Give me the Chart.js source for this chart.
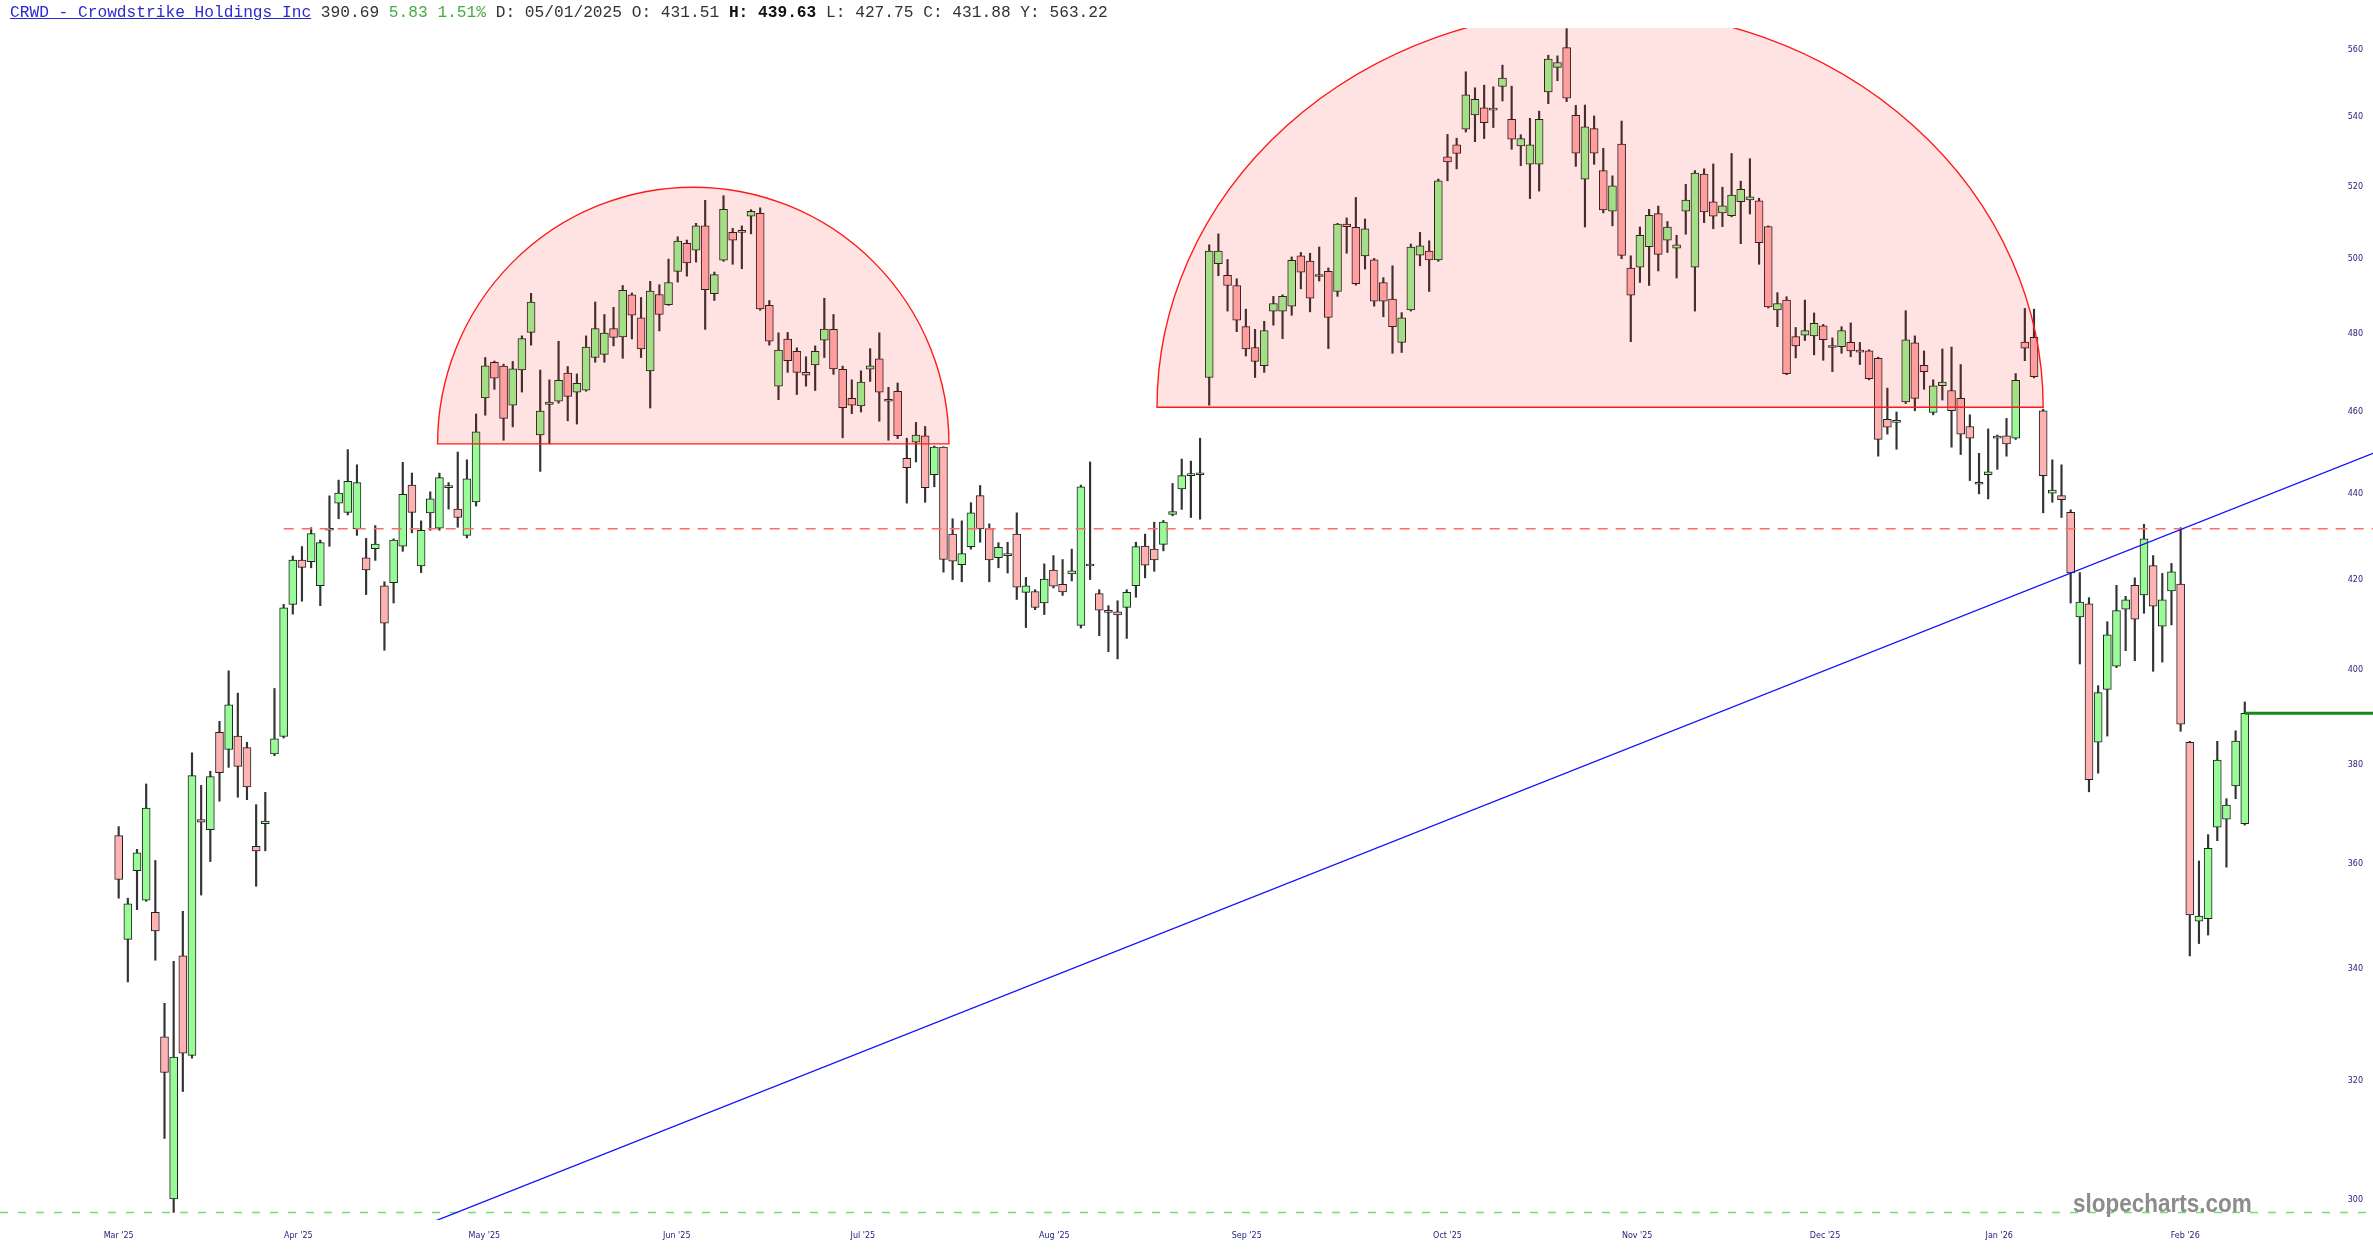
<!DOCTYPE html>
<html>
<head>
<meta charset="utf-8">
<title>CRWD - Crowdstrike Holdings Inc</title>
<script src="https://cdn.jsdelivr.net/npm/chart.js@4.4.1/dist/chart.umd.min.js"></script>
<style>
  html,body{margin:0;padding:0;background:#fff;}
  #wrap{position:relative;width:2373px;height:1260px;overflow:hidden;}
  #chart{position:absolute;left:0;top:0;}
  #head{position:absolute;left:10px;top:4px;font:16.2px "Liberation Mono",monospace;color:#333;white-space:pre;line-height:18px;}
  #head a{color:#2a2ad0;text-decoration:underline;}
  #head .up{color:#44aa44;}
  #head b{color:#111;}
  #mark{position:absolute;left:2073px;top:1189px;font:bold 25px "Liberation Sans Narrow","Liberation Sans",sans-serif;color:#8c8c8c;transform:scaleX(0.9);transform-origin:left center;}
</style>
</head>
<body>
<div id="wrap">
<canvas id="chart" width="2373" height="1260"></canvas>
<div id="head"><a>CRWD - Crowdstrike Holdings Inc</a> 390.69 <span class="up">5.83 1.51%</span> D: 05/01/2025 O: 431.51 <b>H: 439.63</b> L: 427.75 C: 431.88 Y: 563.22</div>
<div id="mark">slopecharts.com</div>
</div>
<script>
// ---------- Daily candles, oldest first
const opens = [
  365.6,345.6,358.7,353.0,350.7,327.8,300.2,342.5,324.5,368.8,
  366.8,386.7,383.1,385.9,383.5,363.5,368.0,382.2,385.8,414.5,
  424.6,424.2,418.7,431.51,437.9,435.7,431.8,425.1,427.2,418.7,
  419.4,427.8,442.2,423.2,435.6,432.0,441.6,436.5,430.3,438.2,
  463.6,472.7,471.7,461.8,470.7,480.4,454.4,462.0,462.8,469.9,
  465.1,465.6,473.9,474.7,481.4,479.2,490.3,484.2,470.5,490.4,
  487.7,496.6,504.2,502.3,509.0,490.6,499.6,507.2,507.2,511.7,
  512.5,487.5,466.6,478.7,475.5,470.1,472.0,478.4,481.2,470.9,
  463.5,461.6,470.9,473.6,463.2,465.3,448.7,452.6,454.2,444.7,
  451.4,430.6,423.5,427.7,439.7,431.9,425.1,425.6,430.6,417.2,
  417.4,414.8,422.3,419.0,421.4,409.8,423.2,416.9,413.0,412.8,
  413.8,418.7,427.8,427.1,428.2,435.2,441.3,444.5,444.7,468.8,
  498.7,495.5,492.8,481.9,476.5,471.8,486.0,486.0,487.3,500.8,
  499.4,495.2,496.6,491.2,509.5,508.6,500.8,499.7,493.6,489.2,
  477.8,486.3,501.0,502.1,499.7,528.4,531.9,536.4,540.6,542.7,
  542.0,549.0,539.3,531.6,526.3,526.3,547.4,554.7,560.7,540.5,
  522.1,536.6,524.5,513.1,532.1,497.5,497.7,503.3,512.4,505.1,
  502.9,513.1,497.7,523.5,515.7,512.6,511.8,515.7,516.2,516.0,
  508.8,486.3,488.9,479.3,479.7,479.5,482.1,476.9,476.7,477.8,
  475.7,475.6,473.7,458.3,457.5,462.6,477.7,471.9,460.0,466.7,
  465.5,463.5,456.5,442.8,444.7,454.1,454.2,453.6,477.9,479.1,
  460.4,440.3,439.7,435.7,411.7,414.6,384.6,395.8,400.8,413.4,
  418.8,416.6,423.3,409.6,417.5,419.1,384.6,349.0,349.5,367.3,
  368.9,375.6,368.0
];
const highs = [
  367.4,353.4,362.9,376.0,360.7,333.8,341.5,350.9,382.4,375.7,
  378.6,389.0,399.8,395.0,384.6,371.8,374.3,396.0,414.5,425.5,
  427.7,432.1,429.2,439.63,443.4,450.8,447.1,429.6,432.6,419.6,
  429.5,447.7,445.1,433.7,440.6,445.1,442.8,450.2,448.3,459.6,
  473.9,473.0,472.2,472.9,479.5,490.7,470.7,468.2,478.1,471.6,
  469.7,479.5,488.4,485.1,487.0,492.8,490.8,489.6,493.9,493.0,
  499.9,506.0,505.1,509.7,516.1,496.4,517.4,508.3,509.0,513.5,
  514.0,488.8,480.3,480.4,476.4,474.1,476.9,489.4,485.1,471.7,
  468.2,470.5,476.2,480.3,466.3,467.4,453.6,457.5,456.5,451.7,
  451.5,434.2,433.7,438.0,442.1,433.0,428.6,428.7,435.6,420.6,
  417.8,423.7,425.6,424.7,427.1,442.2,447.8,417.8,414.2,415.3,
  417.8,428.7,430.6,433.4,433.8,442.6,448.5,448.0,453.6,503.8,
  506.8,499.8,494.6,486.5,481.2,483.3,489.9,490.3,500.5,501.7,
  501.5,503.2,497.5,509.7,511.2,516.9,510.9,500.1,494.9,498.1,
  485.6,504.0,507.2,504.9,522.1,534.9,533.8,553.4,548.6,549.4,
  548.9,555.4,549.1,534.8,539.6,541.7,558.4,558.2,566.5,543.4,
  543.5,540.3,530.9,523.0,538.8,500.8,508.7,513.6,514.5,510.2,
  506.4,520.6,524.5,525.0,526.4,519.8,529.4,521.5,527.9,516.7,
  509.0,490.9,489.8,481.7,488.9,485.5,482.5,479.0,481.9,482.9,
  477.8,475.9,474.0,466.1,460.1,486.1,479.5,475.6,468.2,476.1,
  476.6,472.1,459.4,449.9,455.9,454.4,458.5,469.8,486.7,486.5,
  460.8,448.3,447.1,436.3,421.7,416.0,396.6,410.6,418.8,416.3,
  420.5,432.9,425.6,421.5,423.8,432.1,384.8,360.6,365.8,384.8,
  373.0,387.0,393.1
];
const lows = [
  353.4,337.7,351.2,352.8,341.7,310.2,298.0,318.2,324.0,354.0,
  360.5,372.5,379.4,373.3,372.8,355.7,362.6,381.8,385.5,412.3,
  415.2,422.8,414.2,427.75,434.2,435.1,430.3,416.7,424.5,404.3,
  414.8,426.6,430.9,421.7,431.5,431.5,436.5,432.2,429.7,437.2,
  459.3,465.8,453.1,456.4,465.1,477.1,445.5,452.2,462.3,457.9,
  457.1,465.3,472.7,472.7,476.9,473.7,478.7,473.9,461.1,480.8,
  487.5,493.7,495.3,499.1,481.2,488.8,499.3,498.5,497.3,506.8,
  486.2,477.1,463.2,470.1,464.5,466.6,465.5,473.9,469.6,453.7,
  459.7,460.1,467.8,457.8,453.1,453.5,437.9,447.8,438.1,441.8,
  421.8,420.1,419.6,427.1,428.7,419.6,422.8,421.6,415.6,409.3,
  413.3,412.2,418.2,416.5,419.8,409.2,420.1,407.5,404.0,402.4,
  406.9,416.1,420.5,422.0,426.7,434.9,436.4,434.5,434.1,461.8,
  495.4,486.0,480.6,474.3,468.8,470.1,482.3,478.8,484.9,491.9,
  485.8,494.0,476.2,489.9,501.5,492.9,497.2,487.3,484.5,475.0,
  475.2,486.0,498.1,491.2,499.3,521.6,525.0,535.6,532.8,533.7,
  536.9,544.7,530.6,525.9,516.6,518.7,543.9,550.7,544.5,525.7,
  508.7,526.3,512.6,509.0,500.0,478.0,493.6,492.8,496.7,501.7,
  494.8,506.7,486.0,509.9,508.2,508.8,511.5,504.1,512.3,498.5,
  486.8,481.9,469.5,473.8,478.3,474.6,473.2,470.3,475.0,474.1,
  472.1,468.2,449.2,454.6,450.9,462.2,460.4,465.8,459.4,463.1,
  451.4,449.6,443.3,440.1,438.9,446.0,449.2,453.3,473.1,468.7,
  435.6,438.1,434.5,414.8,401.3,374.4,378.2,385.9,400.5,404.2,
  402.0,412.5,399.7,401.7,409.9,386.9,342.5,344.8,346.4,364.6,
  359.4,373.0,367.7
];
const closes = [
  357.0,352.3,362.2,371.1,347.2,321.5,324.2,324.9,377.7,368.3,
  377.5,378.3,392.5,379.6,375.4,362.6,368.5,385.3,413.7,424.6,
  422.9,430.7,428.6,431.88,440.3,443.1,442.8,422.3,428.3,410.3,
  429.2,440.0,435.7,431.5,438.9,444.0,442.0,434.5,443.7,455.2,
  471.8,468.6,458.5,471.0,478.8,488.4,460.3,462.6,468.1,464.0,
  467.3,476.6,481.4,480.2,479.1,491.5,484.9,476.1,491.3,485.1,
  493.6,504.8,498.9,509.0,491.7,495.7,513.6,505.1,507.6,513.0,
  486.6,478.1,475.8,473.1,470.1,469.4,475.5,481.3,471.0,461.2,
  461.8,467.6,471.8,465.1,462.8,454.2,446.4,454.4,441.6,451.4,
  424.7,424.3,426.1,435.6,431.8,424.6,427.5,426.0,418.4,418.7,
  413.8,420.2,418.6,417.3,422.1,441.8,423.6,413.2,412.7,412.1,
  417.2,427.7,423.4,424.6,433.4,435.9,444.5,444.9,445.1,502.1,
  502.1,492.8,483.6,476.1,472.9,480.9,488.0,489.9,499.6,496.4,
  489.4,495.6,484.3,509.5,508.8,493.3,508.2,488.6,488.6,481.9,
  484.2,503.2,503.5,499.7,521.6,527.0,529.4,546.5,545.2,538.3,
  542.6,551.5,533.5,533.7,531.9,539.3,557.2,556.2,545.5,529.5,
  537.1,529.5,513.4,520.2,500.9,490.2,506.4,511.9,501.2,508.7,
  503.8,516.2,523.8,512.9,511.7,514.6,517.6,519.2,517.1,504.4,
  487.1,488.0,469.8,476.9,480.9,482.8,478.5,476.5,480.9,475.6,
  475.3,468.5,453.3,456.3,457.9,478.5,463.5,470.3,466.7,467.6,
  460.4,454.6,453.6,442.4,445.4,453.6,452.2,468.1,476.3,469.0,
  444.5,441.0,438.7,421.6,415.0,376.9,395.1,407.7,413.1,415.5,
  411.2,429.5,414.1,415.5,421.9,388.4,350.2,350.0,363.1,380.9,
  371.7,384.86,390.69
];

// ---------- Axis labels
const monthLabels = ["Mar '25","Apr '25","May '25","Jun '25","Jul '25","Aug '25","Sep '25","Oct '25","Nov '25","Dec '25","Jan '26","Feb '26"];
const monthAt = [0, 19.6, 39.9, 60.9, 81.2, 102.1, 123.1, 145.0, 165.7, 186.2, 205.2, 225.5];
const priceTicks = [300,320,340,360,380,400,420,440,460,480,500,520,540,560];

// ---------- Drawn studies (candle index, price)
const dashLevel = 431.88;      // red dashed, starts at candle 18
const dashFrom = 18.0;
const floorLevel = 298.0;      // green dashed
const lastLevel = 390.69;      // green solid, from last candle
const domes = [
  {from: 34.8, to: 90.6, base: 452.2, top: 519.8},
  {from: 113.3, to: 210.0, base: 461.3, top: 572.5}
];
const trendA = [208.3, 417.7];
const trendB = [234.7, 440.0];

// ---------- Helpers
const GREEN = 'rgb(152,251,152)', PINK = 'rgb(255,178,178)';
const idx = opens.map((_, i) => i);
const wickData = idx.map(i => ({x: i, y: [lows[i], highs[i]]}));
const bodyData = idx.map(i => ({x: i, y: [Math.min(opens[i], closes[i]), Math.max(opens[i], closes[i])]}));
const bodyColors = idx.map(i => closes[i] >= opens[i] ? GREEN : PINK);

const overlay = {
  id: 'overlay',
  afterDatasetsDraw(chart) {
    const {ctx, chartArea: a, scales: {x, y}} = chart;
    const W = chart.width;
    ctx.save();
    ctx.beginPath(); ctx.rect(0, a.top, W, a.bottom - a.top); ctx.clip();

    // domes
    domes.forEach(d => {
      const x0 = x.getPixelForValue(d.from), x1 = x.getPixelForValue(d.to);
      const yb = y.getPixelForValue(d.base), yt = y.getPixelForValue(d.top);
      ctx.beginPath();
      ctx.ellipse((x0 + x1) / 2, yb, (x1 - x0) / 2, yb - yt, 0, Math.PI, 2 * Math.PI);
      ctx.closePath();
      ctx.fillStyle = 'rgba(255,0,0,0.11)'; ctx.fill();
      ctx.strokeStyle = '#ff1a1a'; ctx.lineWidth = 1.4; ctx.stroke();
    });

    // red dashed level
    let yy = y.getPixelForValue(dashLevel);
    ctx.setLineDash([10, 8]); ctx.strokeStyle = '#ff6a6a'; ctx.lineWidth = 1.5;
    ctx.beginPath(); ctx.moveTo(x.getPixelForValue(dashFrom), yy); ctx.lineTo(W, yy); ctx.stroke();

    // green dashed floor
    yy = y.getPixelForValue(floorLevel);
    ctx.setLineDash([8, 10]); ctx.strokeStyle = '#6ee06e'; ctx.lineWidth = 1.5;
    ctx.beginPath(); ctx.moveTo(0, yy); ctx.lineTo(W, yy); ctx.stroke();
    ctx.setLineDash([]);

    // trend line
    const ax = x.getPixelForValue(trendA[0]), ay = y.getPixelForValue(trendA[1]);
    const bx = x.getPixelForValue(trendB[0]), by = y.getPixelForValue(trendB[1]);
    const k = (by - ay) / (bx - ax);
    ctx.strokeStyle = '#1010ff'; ctx.lineWidth = 1.3;
    ctx.beginPath(); ctx.moveTo(0, ay - k * ax); ctx.lineTo(W, ay + k * (W - ax)); ctx.stroke();

    // last price
    yy = y.getPixelForValue(lastLevel);
    ctx.strokeStyle = '#138a13'; ctx.lineWidth = 3;
    ctx.beginPath(); ctx.moveTo(x.getPixelForValue(opens.length - 1), yy); ctx.lineTo(W, yy); ctx.stroke();
    ctx.restore();
  }
};

const tickFont = {family: 'DejaVu Sans', size: 8};
new Chart(document.getElementById('chart').getContext('2d'), {
  type: 'bar',
  data: {datasets: [
    {label: 'range', data: wickData, backgroundColor: '#333', barThickness: 1.5, grouped: false, order: 2},
    {label: 'body', data: bodyData, backgroundColor: bodyColors, borderColor: '#222', borderWidth: 1,
     borderSkipped: false, barThickness: 8, minBarLength: 2, grouped: false, order: 1}
  ]},
  options: {
    responsive: false, animation: false, events: [], devicePixelRatio: 1,
    layout: {padding: {top: 28, left: 0, right: 0, bottom: 0}},
    plugins: {legend: {display: false}, tooltip: {enabled: false}},
    scales: {
      x: {
        type: 'linear', min: -12.95, max: 244.9, bounds: 'data', offset: false,
        grid: {display: false, drawTicks: false}, border: {display: false},
        afterBuildTicks: s => { s.ticks = monthAt.map(v => ({value: v})); },
        afterFit: s => { s.height = 40; },
        ticks: {padding: 11, autoSkip: false, maxRotation: 0, color: '#1c1c7c', font: tickFont,
                callback: (v, i) => monthLabels[i]}
      },
      y: {
        type: 'logarithmic', position: 'right', min: 296.77, max: 566.7, bounds: 'data',
        grid: {display: false, drawTicks: false}, border: {display: false},
        afterBuildTicks: s => { s.ticks = priceTicks.map(v => ({value: v})); },
        afterFit: s => { s.width = 10; },
        ticks: {mirror: true, padding: 0, color: '#1c1c7c', font: tickFont, callback: v => String(v)}
      }
    }
  },
  plugins: [overlay]
});
</script>
</body>
</html>
